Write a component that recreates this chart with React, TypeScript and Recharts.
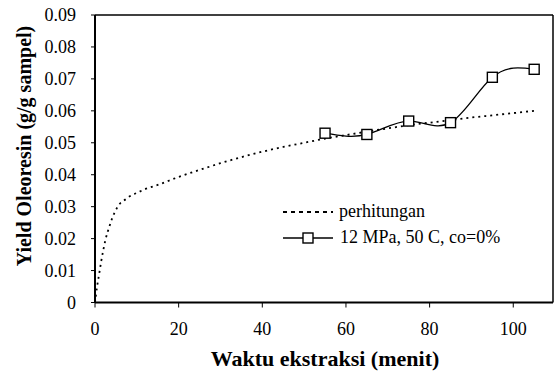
import { Line, LineChart, ReferenceLine, XAxis, YAxis } from 'recharts'

const FONT = 'Liberation Serif, Times New Roman, serif'

// model curve ("perhitungan"), minutes vs g/g
const calcMinutes = [0, 0.5, 1, 1.5, 2, 2.5, 3, 3.5, 4, 5, 6, 7, 8, 10, 12, 15, 20, 25, 30, 35, 40, 45, 50, 55, 60, 65, 70, 75, 80, 85, 90, 95, 100, 105]
const calcYield = [0, 0.005, 0.009, 0.013, 0.0165, 0.0196, 0.022, 0.024, 0.026, 0.029, 0.031, 0.032, 0.033, 0.0343, 0.0355, 0.0368, 0.0393, 0.0415, 0.0436, 0.0455, 0.0472, 0.0487, 0.05, 0.0513, 0.0524, 0.0535, 0.0545, 0.0555, 0.0563, 0.0571, 0.0579, 0.0586, 0.0593, 0.06]

// experiment 12 MPa, 50 C, co=0%
const expMinutes = [55, 65, 75, 85, 95, 105]
const expYield = [0.053, 0.0526, 0.0568, 0.0563, 0.0705, 0.073]

const xTicks = [0, 20, 40, 60, 80, 100]
const yTicks = [0, 0.01, 0.02, 0.03, 0.04, 0.05, 0.06, 0.07, 0.08, 0.09]
const X_MAX = 109.5

const calcData = calcMinutes.map((x, i) => ({ x, y: calcYield[i] }))
const expData = expMinutes.map((x, i) => ({ x, y: expYield[i] }))

const textStyle = { fontFamily: FONT }

function SquareDot({ cx, cy }: { cx?: number; cy?: number }) {
  if (cx == null || cy == null) return null
  return <rect x={cx - 5} y={cy - 5} width={10} height={10} fill="#fff" stroke="#000" strokeWidth={1.4} />
}

// legend sits inside the plot area, so it is drawn over the chart instead of
// letting Recharts reserve room for it
function LegendBox() {
  return (
    <svg width={250} height={60} style={{ position: 'absolute', left: 280, top: 200 }}>
      <line x1={3} y1={12} x2={53} y2={12} stroke="#000" strokeWidth={1.8} strokeDasharray="4 4" />
      <text x={59} y={17} fontSize={18} style={textStyle}>perhitungan</text>
      <line x1={3} y1={38} x2={53} y2={38} stroke="#000" strokeWidth={1.3} />
      <rect x={23} y={33} width={10} height={10} fill="#fff" stroke="#000" strokeWidth={1.4} />
      <text x={60} y={43} fontSize={18} style={textStyle}>12 MPa, 50 C, co=0%</text>
    </svg>
  )
}

const xTitle = () => (
  <text x={325} y={366} textAnchor="middle" fontSize={22} fontWeight="bold" fill="#000" style={textStyle}>
    Waktu ekstraksi (menit)
  </text>
)

const yTitle = () => (
  <text x={31} y={146} transform="rotate(-90, 31, 146)" textAnchor="middle" fontSize={20} fontWeight="bold" fill="#000" style={textStyle}>
    Yield Oleoresin (g/g sampel)
  </text>
)

export default function App() {
  return (
    <div style={{ position: 'absolute', left: 0, top: 0, width: 554, height: 374, background: '#fff', fontFamily: FONT }}>
      <LineChart width={554} height={374} margin={{ top: 15, right: 1, left: 0, bottom: 0 }}>
        <XAxis
          type="number"
          dataKey="x"
          domain={[0, X_MAX]}
          ticks={xTicks}
          allowDataOverflow
          height={71.5}
          tickSize={5}
          tickMargin={15}
          axisLine={{ stroke: '#000', strokeWidth: 2 }}
          tickLine={{ stroke: '#000' }}
          tick={{ fontSize: 18, fill: '#000', style: textStyle }}
          label={{ content: xTitle }}
        />
        <YAxis
          type="number"
          dataKey="y"
          domain={[0, 0.09]}
          ticks={yTicks}
          width={95}
          tickSize={4}
          tickMargin={15}
          tickFormatter={(v: number) => (v === 0 ? '0' : v.toFixed(2))}
          axisLine={{ stroke: '#000', strokeWidth: 2 }}
          tickLine={{ stroke: '#000' }}
          tick={{ fontSize: 18, fill: '#000', style: textStyle }}
          label={{ content: yTitle }}
        />
        <ReferenceLine y={0.09} stroke="#000" strokeWidth={1.5} />
        <ReferenceLine x={X_MAX} stroke="#000" strokeWidth={1.5} />
        <Line
          data={calcData}
          dataKey="y"
          type="monotone"
          stroke="#000"
          strokeWidth={1.8}
          strokeDasharray="2 4"
          dot={false}
          isAnimationActive={false}
        />
        <Line
          data={expData}
          dataKey="y"
          type="natural"
          stroke="#000"
          strokeWidth={1.3}
          dot={<SquareDot />}
          isAnimationActive={false}
        />
      </LineChart>
      <LegendBox />
    </div>
  )
}
